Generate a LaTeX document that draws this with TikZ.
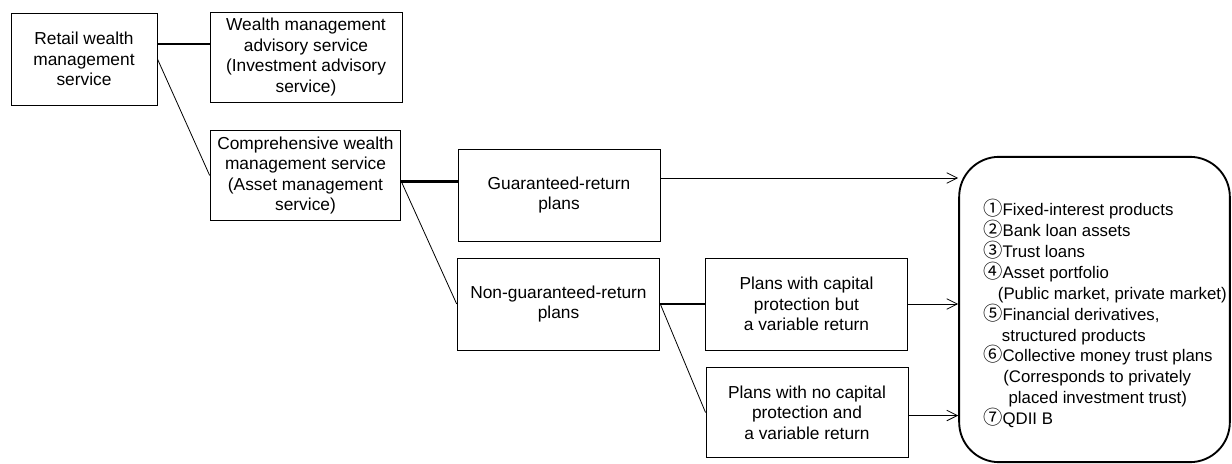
\documentclass[tikz,border=0pt]{standalone}
\usepackage{fontspec}
\setmainfont{Liberation Sans}
\newfontfamily\cjkfont[Scale=1.15]{Noto Sans CJK JP}
\usetikzlibrary{arrows.meta, positioning, calc}

\newcommand{\itemno}[1]{{\cjkfont #1}}

\begin{document}
\begin{tikzpicture}[x=0.75pt, y=-0.75pt,
      svcbox/.style={draw, line width=0.7pt, minimum height=69pt, inner sep=0pt,
                    font=\fontsize{13}{15.4}\selectfont, align=center},
      assetbox/.style={draw, line width=1.4pt, rounded corners=30pt,
                    minimum width=203pt, minimum height=229pt},
      trunk/.style={line width=1.6pt},
      branch/.style={line width=0.6pt},
      feed/.style={-{Straight Barb[length=8pt, width=8pt]}, line width=0.6pt}
    ]
      \useasboundingbox (0,0) rectangle (1232,464);

      \node[svcbox, minimum width=109.5pt] (retail) at (84,59) {Retail wealth\\management\\service};
      \node[svcbox, minimum width=144pt, minimum height=67.5pt] (advisory) at (306,57) {Wealth management\\advisory service\\(Investment advisory\\service)};
      \node[svcbox, minimum width=143pt, minimum height=68pt] (compre) at (305.5,175.5) {Comprehensive wealth\\management service\\(Asset management\\service)};
      \node[svcbox, minimum width=151.5pt] (guar) at (559,195) {Guaranteed-return\\plans};
      \node[svcbox, minimum width=152pt] (nonguar) at (558.5,304) {Non-guaranteed-return\\plans};
      \node[svcbox, minimum width=152pt] (protect) at (806.5,304) {Plans with capital\\protection but\\a variable return};
      \node[svcbox, minimum width=151.5pt, minimum height=68pt] (noprotect) at (807,412.5) {Plans with no capital\\protection and\\a variable return};

      \node[assetbox] (assets) at (1094.5,309.5) {};
      \node[anchor=west, align=left, inner sep=0pt, font=\fontsize{12.6}{15.7}\selectfont] (list) at (983,313.5)
        {\itemno{①}Fixed-interest products\\
         \itemno{②}Bank loan assets\\
         \itemno{③}Trust loans\\
         \itemno{④}Asset portfolio\\
         \hspace*{11pt}(Public market, private market)\\
         \itemno{⑤}Financial derivatives,\\
         \hspace*{14pt}structured products\\
         \itemno{⑥}Collective money trust plans\\
         \hspace*{15pt}(Corresponds to privately\\
         \hspace*{19pt}placed investment trust)\\
         \itemno{⑦}QDII B};

      % tree
      \draw[trunk] ($(retail.east)+(0,-15)$) -- ($(advisory.west)+(0,-13)$);
      \draw[branch] (retail.east) -- (compre.west);
      \coordinate (split) at ($(compre.east)+(0,6)$);
      \draw[trunk] (split) -- (split -| guar.west);
      \draw[branch] (split) -- (nonguar.west);
      \draw[trunk] (nonguar.east) -- (protect.west);
      \draw[branch] (nonguar.east) -- (noprotect.west);

      % into the asset list
      \coordinate (gout) at ($(guar.east)+(0,-17)$);
      \draw[feed] (gout) -- (gout -| assets.west);
      \draw[feed] (protect.east) -- (protect.east -| assets.west);
      \draw[feed] ($(noprotect.east)+(0,3)$) -- ($(noprotect.east -| assets.west)+(0,3)$);
    \end{tikzpicture}
\end{document}
